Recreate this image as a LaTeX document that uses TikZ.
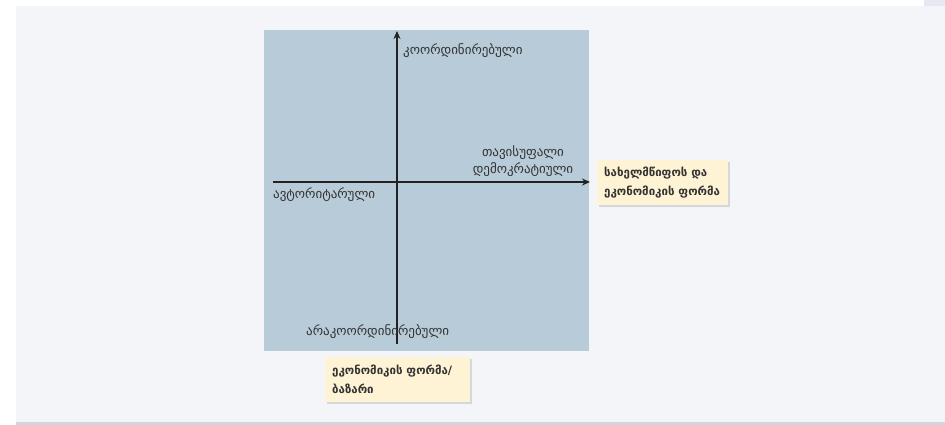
\documentclass[tikz,border=0pt]{standalone}
\usepackage{fontspec}
\setmainfont{DejaVu Sans}
\usetikzlibrary{arrows.meta,shadows}
\definecolor{pagebg}{HTML}{F4F5F9}
\definecolor{topbar}{HTML}{E6E9F2}
\definecolor{footbar}{HTML}{D2D5DA}
\definecolor{chartbg}{HTML}{B8CBD8}
\definecolor{notebg}{HTML}{FFF3D5}
\definecolor{axisc}{HTML}{222222}
\definecolor{textc}{HTML}{333333}

\begin{document}
\begin{tikzpicture}
  [x=1pt,y=-1pt,
   every node/.style={text=textc,inner sep=0pt,font=\fontsize{13}{17}\selectfont},
   axis/.style={draw=axisc,line width=1.5pt,-{Stealth[length=8pt,width=7pt]}},
   note/.style={fill=notebg,anchor=north west,align=left,inner xsep=7pt,
     minimum height=45pt,font=\bfseries\fontsize{11.5}{19}\selectfont,
     drop shadow={opacity=0.25,shadow xshift=1.5pt,shadow yshift=-2pt}}]
  \useasboundingbox (0,0) rectangle (945,425);
  % page
  \fill[white] (0,0) rectangle (945,425);
  \fill[pagebg] (16,6) rectangle (945,422);
  \fill[footbar] (16,422) rectangle (945,425);
  \fill[topbar] (924,0) rectangle (945,6);
  % chart area
  \fill[chartbg] (264,30) rectangle (589,351);
  \coordinate (vbot) at (397,344);
  \coordinate (vtop) at (397,31);
  \coordinate (hleft) at (273,182);
  \coordinate (hright) at (590,182);
  \draw[axis] (vbot) -- (vtop);
  \draw[axis] (hleft) -- (hright);
  % axis labels
  \node[anchor=west] (coord) at (403,51) {კოორდინირებული};
  \node[align=center] (free) at (523,161) {თავისუფალი\\დემოკრატიული};
  \node[anchor=west] (auth) at (273,195) {ავტორიტარული};
  \node[anchor=west] (noncoord) at (306,332) {არაკოორდინირებული};
  % notes
  \node[note,text width=117pt] (statebox) at (597,160) {სახელმწიფოს და\\ეკონომიკის ფორმა};
  \node[note,text width=131pt] (marketbox) at (325,357) {ეკონომიკის ფორმა/\\ბაზარი};
\end{tikzpicture}
\end{document}
